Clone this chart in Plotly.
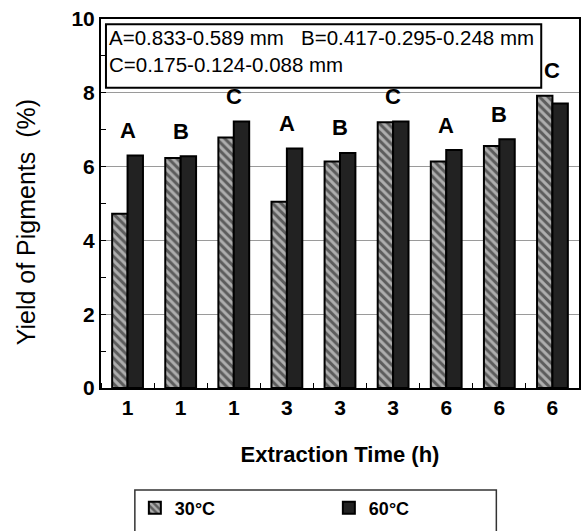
import plotly.graph_objects as go

# ---- data ----
time_labels = ["1", "1", "1", "3", "3", "3", "6", "6", "6"]
size_labels = ["A", "B", "C", "A", "B", "C", "A", "B", "C"]
yield_30 = [4.72, 6.23, 6.79, 5.05, 6.14, 7.20, 6.14, 6.56, 7.92]
yield_60 = [6.30, 6.28, 7.22, 6.49, 6.37, 7.22, 6.45, 6.74, 7.71]
y_ticks = [0, 2, 4, 6, 8, 10]
box_lines = ["A=0.833-0.589 mm\u00a0\u00a0\u00a0B=0.417-0.295-0.248 mm", "C=0.175-0.124-0.088 mm"]
series_names = ["30\u00b0C", "60\u00b0C"]
y_title = "Yield of Pigments\u00a0\u00a0(%)"
x_title = "Extraction Time (h)"

FONT = "Liberation Sans, Arial, sans-serif"
xpos = list(range(len(time_labels)))

fig = go.Figure()
fig.add_trace(go.Bar(
    x=xpos, y=yield_30, name=series_names[0],
    marker=dict(color="#5c5c5c", line=dict(color="black", width=2),
                pattern=dict(shape="\\", fgcolor="white", size=6, solidity=0.5,
                             fillmode="overlay")),
))
fig.add_trace(go.Bar(
    x=xpos, y=yield_60, name=series_names[1],
    marker=dict(color="#222222", line=dict(color="black", width=2)),
))

# letter labels above each group
for i, lab in enumerate(size_labels):
    fig.add_annotation(x=xpos[i], y=max(yield_30[i], yield_60[i]), text=lab,
                       showarrow=False, yanchor="middle", yshift=25,
                       font=dict(family=FONT, size=22, color="black", weight="bold"))

# size-range text box
fig.add_shape(type="rect", xref="paper", yref="paper",
              x0=0.0104, x1=0.921, y0=0.814, y1=0.9857,
              line=dict(color="black", width=2), fillcolor="white", layer="above")
fig.add_annotation(xref="paper", yref="paper", x=0.0125, y=0.912,
                   text="<br>".join(box_lines), showarrow=False,
                   xanchor="left", yanchor="middle", align="left",
                   font=dict(family=FONT, size=20.5, color="black"))

# y-axis title (sits a little below the plot centre in the original)
fig.add_annotation(xref="paper", yref="paper", x=(26 - 101) / 480, y=(388 - 222) / 369,
                   text=y_title, textangle=-90, showarrow=False,
                   xanchor="center", yanchor="middle",
                   font=dict(family=FONT, size=25, color="black"))

# legend frame
fig.add_shape(type="rect", xref="paper", yref="paper",
              x0=(135 - 101) / 480, x1=(498 - 101) / 480,
              y0=(388 - 545) / 369, y1=(388 - 490) / 369,
              line=dict(color="#333333", width=1.5), fillcolor="rgba(0,0,0,0)")

fig.update_layout(
    width=582, height=531,
    margin=dict(l=101, r=1, t=19, b=143),
    paper_bgcolor="white", plot_bgcolor="white",
    barmode="group", bargap=0.42, bargroupgap=0,
    font=dict(family=FONT, color="black"),
    showlegend=True,
    legend=dict(orientation="h", x=(135 - 101) / 480, xanchor="left",
                y=(388 - 508) / 369, yanchor="middle",
                entrywidth=149, entrywidthmode="pixels",
                font=dict(family=FONT, size=18, color="black", weight="bold"),
                bgcolor="rgba(0,0,0,0)", borderwidth=0),
    xaxis=dict(
        range=[-0.5, 8.5], tickmode="array", tickvals=xpos, ticktext=time_labels,
        ticks="", showgrid=False, zeroline=False,
        showline=True, mirror=True, linecolor="black", linewidth=2,
        tickfont=dict(family=FONT, size=21, color="black", weight="bold"),
        minor=dict(tick0=0.5, dtick=1, ticks="inside", ticklen=5,
                   tickcolor="black", tickwidth=1, showgrid=False),
        title=dict(text=x_title, standoff=28,
                   font=dict(family=FONT, size=22, color="black", weight="bold")),
    ),
    yaxis=dict(
        range=[0, 10], tickmode="array", tickvals=y_ticks,
        ticks="inside", ticklen=5, tickcolor="black",
        showgrid=True, gridcolor="#9a9a9a", gridwidth=1, zeroline=False,
        showline=True, mirror=True, linecolor="black", linewidth=2,
        tickfont=dict(family=FONT, size=21, color="black", weight="bold"),
        minor=dict(dtick=1, ticks="inside", ticklen=5, tickcolor="black",
                   tickwidth=1, showgrid=False),
    ),
)

fig.write_html("out.html")
